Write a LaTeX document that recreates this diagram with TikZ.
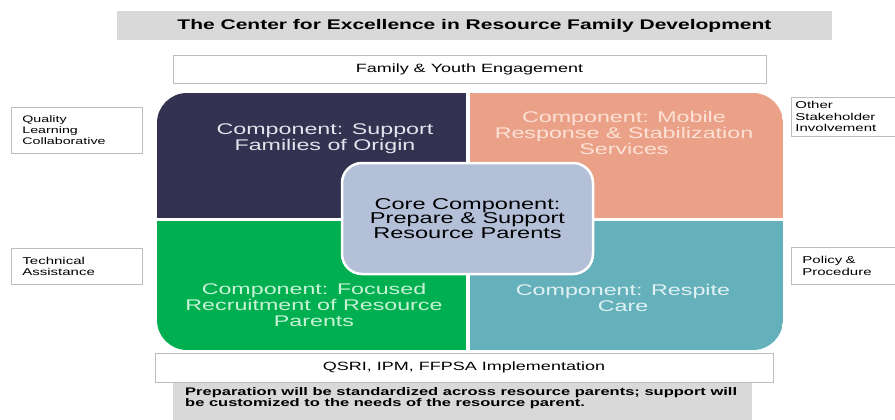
\documentclass[tikz,border=0pt]{standalone}
\usepackage{fontspec}
\setmainfont{Liberation Sans}[FakeStretch=1.5]
\usepackage{tikz}
\definecolor{navyq}{RGB}{51,50,80}
\definecolor{salmonq}{RGB}{235,161,135}
\definecolor{greenq}{RGB}{0,176,80}
\definecolor{tealq}{RGB}{101,177,187}
\definecolor{corefill}{RGB}{180,192,216}
\definecolor{bargray}{RGB}{217,217,217}
\definecolor{boxgray}{RGB}{190,190,190}
\definecolor{navytext}{RGB}{228,228,238}
\definecolor{salmontext}{RGB}{252,226,214}
\definecolor{greentext}{RGB}{200,242,214}
\definecolor{tealtext}{RGB}{226,242,244}

\begin{document}
\begin{tikzpicture}[x=1pt,y=-1pt,
    quadtext/.style={align=center,font=\fontsize{15.5}{16}\selectfont},
    plainbox/.style={draw=boxgray,fill=white,line width=0.8pt,inner sep=0pt,font=\fontsize{12}{14}\selectfont},
    sidebox/.style={draw=boxgray,fill=white,line width=0.8pt,anchor=north west,align=left,
        inner ysep=0pt,font=\fontsize{10}{11.5}\selectfont},
    corebox/.style={draw=white,line width=2.5pt,fill=corefill,rounded corners=20pt,align=center,
        minimum width=251pt,minimum height=111pt,font=\fontsize{15.7}{14.5}\selectfont}]
    \clip (0,0) rectangle (895,420);
    % Title
    \node[fill=bargray,minimum width=715pt,minimum height=29pt,inner sep=0pt,
        font=\fontsize{14}{16}\selectfont\bfseries] (title) at (474.5,25.5)
        {The Center for Excellence in Resource Family Development};
    \node[plainbox,minimum width=593pt,minimum height=28pt] (family) at (469.5,69)
        {Family \& Youth Engagement};
    %
    % Quadrants:
    \begin{scope}
        \clip[rounded corners=30pt] (157,93) rectangle (783,350);
        \fill[navyq] (157,93) rectangle (468,219.5);
        \fill[salmonq] (468,93) rectangle (783,219.5);
        \fill[greenq] (157,219.5) rectangle (468,350);
        \fill[tealq] (468,219.5) rectangle (783,350);
        \draw[white,line width=3.5pt] (468,93) -- (468,350) (157,219.5) -- (783,219.5);
    \end{scope}
    \node[quadtext,text=navytext] (families) at (325,139)
        {Component: Support\\Families of Origin};
    \node[quadtext,text=salmontext] (mobile) at (624,133)
        {Component: Mobile\\Response \& Stabilization\\Services};
    \node[quadtext,text=greentext] (recruit) at (314,305)
        {Component: Focused\\Recruitment of Resource\\Parents};
    \node[quadtext,text=tealtext] (respite) at (623,298)
        {Component: Respite\\Care};
    \node[corebox] (core) at (467.5,218.5)
        {Core Component:\\Prepare \& Support\\Resource Parents};
    %
    % Side Boxes
    \node[sidebox,minimum width=131pt,minimum height=46pt,inner xsep=11pt,text width=109pt,
        font=\fontsize{9.5}{11}\selectfont] (quality) at (11,107)
        {Quality\\Learning\\Collaborative};
    \node[sidebox,minimum width=131pt,minimum height=36pt,inner xsep=11pt,text width=109pt] (technical) at (11,248)
        {Technical\\Assistance};
    \node[sidebox,minimum width=120pt,minimum height=39pt,inner xsep=4pt,text width=112pt] (other) at (791,97)
        {Other\\Stakeholder\\Involvement};
    \node[sidebox,minimum width=120pt,minimum height=37pt,inner xsep=11pt,text width=98pt] (policy) at (791,247)
        {Policy \&\\Procedure};
    %
    % Bottom
    \node[plainbox,minimum width=618pt,minimum height=29pt] (qsri) at (464,367.5)
        {QSRI, IPM, FFPSA Implementation};
    \node[fill=bargray,minimum width=579pt,minimum height=42pt,inner sep=0pt] (notebg) at (462.5,404) {};
    \node[anchor=west,align=left,inner sep=0pt,font=\fontsize{11}{10.5}\selectfont\bfseries] (note) at (185,398)
        {Preparation will be standardized across resource parents; support will\\be customized to the needs of the resource parent.};
\end{tikzpicture}
\end{document}
